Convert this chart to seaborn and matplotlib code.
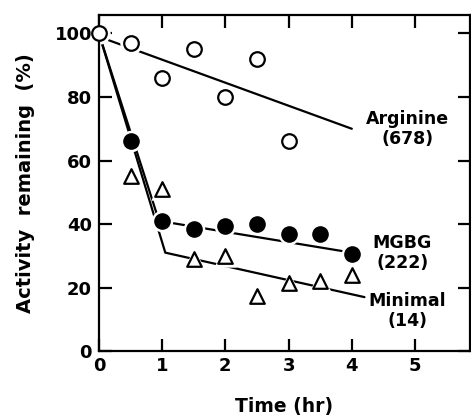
import matplotlib
matplotlib.use("Agg")
import matplotlib.pyplot as plt
import seaborn as sns

# ---- data ----
arg_time = [0, 0.5, 1, 1.5, 2, 2.5, 3]
arg_act = [100, 97, 86, 95, 80, 92, 66]

mgbg_time = [0.5, 1, 1.5, 2, 2.5, 3, 3.5, 4]
mgbg_act = [66, 41, 38.5, 39.5, 40, 37, 37, 30.5]

min_time = [0.5, 1, 1.5, 2, 2.5, 3, 3.5, 4]
min_act = [55, 51, 29, 30, 17.5, 21.5, 22, 24]

arg_fit_t = [0, 4]
arg_fit_y = [99, 70]
mgbg_fit_t = [0, 0.95, 4]
mgbg_fit_y = [100, 41, 31]
min_fit_t = [0, 1.05, 4.2]
min_fit_y = [100, 31, 17]

x_ticks = [0, 1, 2, 3, 4, 5]
y_ticks = [0, 20, 40, 60, 80, 100]

labels = [("Arginine\n(678)", 4.88, 70), ("MGBG\n(222)", 4.8, 31), ("Minimal\n(14)", 4.88, 12.5)]

sns.set_style("ticks", {"text.color": "black", "axes.labelcolor": "black",
                        "xtick.color": "black", "ytick.color": "black",
                        "axes.edgecolor": "black"})
plt.rcParams['font.family'] = ['DejaVu Sans']
plt.rcParams['font.weight'] = 'bold'

fig = plt.figure(figsize=(4.71, 4.18), dpi=100)
ax = fig.add_axes([0.210, 0.160, 0.788, 0.804])

lw = 1.6
for t, y in [(arg_fit_t, arg_fit_y), (mgbg_fit_t, mgbg_fit_y), (min_fit_t, min_fit_y)]:
    sns.lineplot(x=t, y=y, ax=ax, color="black", linewidth=lw, sort=False,
                 estimator=None, zorder=2)

# white halos so lines break around the markers
halo = dict(color="white", edgecolor="white", linewidth=0, zorder=3, legend=False)
sns.scatterplot(x=arg_time, y=arg_act, ax=ax, marker="o", s=260, **halo)
sns.scatterplot(x=mgbg_time, y=mgbg_act, ax=ax, marker="o", s=240, **halo)
sns.scatterplot(x=min_time, y=min_act, ax=ax, marker="^", s=260, **halo)

sns.scatterplot(x=arg_time, y=arg_act, ax=ax, marker="o", s=110, facecolor="white",
                edgecolor="black", linewidth=1.6, zorder=5, clip_on=False)
sns.scatterplot(x=mgbg_time, y=mgbg_act, ax=ax, marker="o", s=120, color="black",
                edgecolor="black", linewidth=1, zorder=5)
sns.scatterplot(x=min_time, y=min_act, ax=ax, marker="^", s=110, facecolor="white",
                edgecolor="black", linewidth=1.6, zorder=5)

for txt, x, y in labels:
    ax.text(x, y, txt, ha="center", va="center", fontsize=12.5, fontweight="bold",
            linespacing=1.15, color="black")

ax.set_xlim(0, 5.87)
ax.set_ylim(0, 105.8)
ax.set_xticks(x_ticks)
ax.set_yticks(y_ticks)
ax.tick_params(direction="in", length=9, width=1.6, top=True, right=True,
               labelsize=13, pad=5, colors="black")
ax.tick_params(axis="x", pad=4)
for s in ax.spines.values():
    s.set_linewidth(1.6)
    s.set_color("black")
    s.set_zorder(4)
ax.set_xlabel("Time (hr)", fontsize=13.5, fontweight="bold", labelpad=16, color="black")
ax.set_ylabel("Activity  remaining  (%)", fontsize=14, fontweight="bold", labelpad=14,
              color="black")

fig.savefig("out.png", dpi=100)
